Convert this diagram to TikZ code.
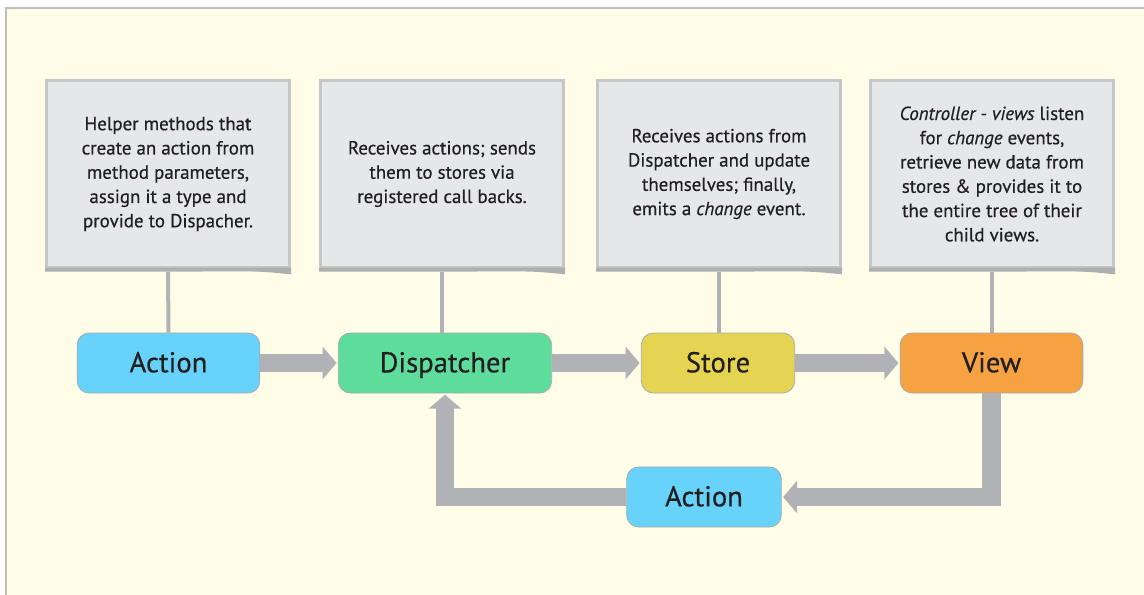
\documentclass[tikz,border=0pt]{standalone}
\usepackage{fontspec}
\setmainfont{PT Sans}
\newfontfamily\notefont[FakeBold=0.5]{PT Sans}
\usepackage{xcolor}
\usetikzlibrary{positioning, arrows.meta}
\definecolor{pagecream}{HTML}{FFFDE8}
\definecolor{framegray}{HTML}{BDBDBD}
\definecolor{notegray}{HTML}{E6E7E8}
\definecolor{noteedge}{HTML}{C5C6C8}
\definecolor{noteshade}{HTML}{AEAFB1}
\definecolor{flowgray}{HTML}{B1B2B6}
\definecolor{partedge}{HTML}{A9AAAE}
\definecolor{inkblack}{HTML}{231F20}
\definecolor{actionblue}{HTML}{67D3FA}
\definecolor{dispgreen}{HTML}{5EDC9C}
\definecolor{storeyellow}{HTML}{E4D452}
\definecolor{vieworange}{HTML}{F6A243}

\begin{document}
\begin{tikzpicture}[x=0.75pt, y=-0.75pt,
    note/.style={fill=notegray, draw=noteedge, line width=2.5pt,
      minimum width=182pt, minimum height=140pt, inner sep=0pt,
      align=center, text=inkblack,
      font=\notefont\fontsize{14.2}{18.2}\selectfont},
    part/.style={fill=#1, draw=partedge, line width=0.6pt,
      rounded corners=9pt, minimum height=45pt, text=inkblack,
      text height=15.5pt, text depth=1.5pt,
      font=\notefont\fontsize{21.5}{24}\selectfont},
    flow/.style={draw=flowgray, line width=14pt, line join=miter,
      -{Triangle[length=10.5pt, width=24pt]}, shorten >=1pt},
    stem/.style={draw=flowgray, line width=3pt}]
  % page and frame
  \fill[white] (0,0) rectangle (1144,595);
  \useasboundingbox (0,0) rectangle (1144,595);
  \fill[pagecream] (6,8) rectangle (1144,595);
  \draw[framegray, line width=1.5pt] (6,595) -- (6,8) -- (1144,8);

  % notes
  \node[note] (actnote) at (168,174) {%
    Helper methods that\\create an action from\\method parameters,\\
    assign it a type and\\provide to Dispacher.};
  \node[note] (dispnote) at (442,174) {%
    Receives actions; sends\\them to stores via\\registered call backs.};
  \node[note] (storenote) at (719,174) {%
    Receives actions from\\Dispatcher and update\\themselves; finally,\\
    emits a \textit{change} event.};
  \node[note] (viewnote) at (992,174) {%
    \textit{Controller - views} listen\\for \textit{change} events,\\
    retrieve new data from\\stores \& provides it to\\
    the entire tree of their\\child views.};

  % curled lower edge of the notes
  \foreach \n in {actnote, dispnote, storenote, viewnote}
    \fill[noteshade] ([yshift=1pt]\n.south west) -- ([yshift=1pt]\n.south east)
      -- ([yshift=-4pt]\n.south east)
      .. controls ([xshift=-25pt, yshift=-1.5pt]\n.south east)
      .. ([xshift=-80pt, yshift=-2pt]\n.south east)
      -- ([yshift=-2pt]\n.south west) -- cycle;

  % flux parts
  \node[part=actionblue, minimum width=137pt] (act) at (168.5,363) {Action};
  \node[part=dispgreen, minimum width=160pt] (disp) at (445,363) {Dispatcher};
  \node[part=storeyellow, minimum width=115pt] (store) at (718,363) {Store};
  \node[part=vieworange, minimum width=137pt] (view) at (991.5,363) {View};
  \node[part=actionblue, minimum width=116pt] (act2) at (704,497) {Action};

  % stems
  \draw[stem] ([yshift=-2pt]actnote.south) -- (act.north);
  \draw[stem] ([yshift=-2pt]dispnote.south) -- (dispnote.south |- disp.north);
  \draw[stem] ([yshift=-2pt]storenote.south) -- (storenote.south |- store.north);
  \draw[stem] ([yshift=-2pt]viewnote.south) -- (viewnote.south |- view.north);

  % flow
  \draw[flow] (act) -- (disp);
  \draw[flow] (disp) -- (store);
  \draw[flow] (store) -- (view);
  \draw[flow] (view.south) |- (act2.east);
  \draw[flow] (act2.west) -| (disp.south);
\end{tikzpicture}
\end{document}
